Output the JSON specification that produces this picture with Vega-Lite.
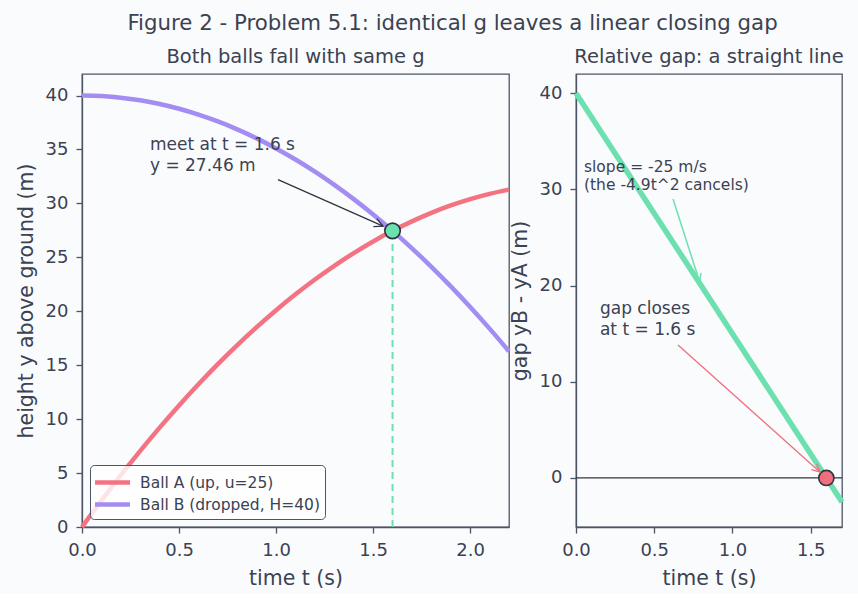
{
  "$schema": "https://vega.github.io/schema/vega-lite/v6.json",
  "background": "#fafbfd",
  "padding": {"left": 15, "top": 12, "right": 8, "bottom": 4},
  "title": {
    "text": "Figure 2 - Problem 5.1: identical g leaves a linear closing gap",
    "fontSize": 21.3,
    "fontWeight": "normal",
    "color": "#3b4252",
    "anchor": "middle",
    "baseline": "bottom",
    "offset": -9,
    "dx": 18
  },
  "spacing": 67,
  "bounds": "flush",
  "datasets": {
    "balls": [
      {"t": 0.0, "y": 0.0, "ball": "Ball A (up, u=25)"},
      {"t": 0.1, "y": 2.451, "ball": "Ball A (up, u=25)"},
      {"t": 0.2, "y": 4.804, "ball": "Ball A (up, u=25)"},
      {"t": 0.3, "y": 7.059, "ball": "Ball A (up, u=25)"},
      {"t": 0.4, "y": 9.216, "ball": "Ball A (up, u=25)"},
      {"t": 0.5, "y": 11.275, "ball": "Ball A (up, u=25)"},
      {"t": 0.6, "y": 13.236, "ball": "Ball A (up, u=25)"},
      {"t": 0.7, "y": 15.099, "ball": "Ball A (up, u=25)"},
      {"t": 0.8, "y": 16.864, "ball": "Ball A (up, u=25)"},
      {"t": 0.9, "y": 18.531, "ball": "Ball A (up, u=25)"},
      {"t": 1.0, "y": 20.1, "ball": "Ball A (up, u=25)"},
      {"t": 1.1, "y": 21.571, "ball": "Ball A (up, u=25)"},
      {"t": 1.2, "y": 22.944, "ball": "Ball A (up, u=25)"},
      {"t": 1.3, "y": 24.219, "ball": "Ball A (up, u=25)"},
      {"t": 1.4, "y": 25.396, "ball": "Ball A (up, u=25)"},
      {"t": 1.5, "y": 26.475, "ball": "Ball A (up, u=25)"},
      {"t": 1.6, "y": 27.456, "ball": "Ball A (up, u=25)"},
      {"t": 1.7, "y": 28.339, "ball": "Ball A (up, u=25)"},
      {"t": 1.8, "y": 29.124, "ball": "Ball A (up, u=25)"},
      {"t": 1.9, "y": 29.811, "ball": "Ball A (up, u=25)"},
      {"t": 2.0, "y": 30.4, "ball": "Ball A (up, u=25)"},
      {"t": 2.1, "y": 30.891, "ball": "Ball A (up, u=25)"},
      {"t": 2.2, "y": 31.284, "ball": "Ball A (up, u=25)"},
      {"t": 0.0, "y": 40.0, "ball": "Ball B (dropped, H=40)"},
      {"t": 0.1, "y": 39.951, "ball": "Ball B (dropped, H=40)"},
      {"t": 0.2, "y": 39.804, "ball": "Ball B (dropped, H=40)"},
      {"t": 0.3, "y": 39.559, "ball": "Ball B (dropped, H=40)"},
      {"t": 0.4, "y": 39.216, "ball": "Ball B (dropped, H=40)"},
      {"t": 0.5, "y": 38.775, "ball": "Ball B (dropped, H=40)"},
      {"t": 0.6, "y": 38.236, "ball": "Ball B (dropped, H=40)"},
      {"t": 0.7, "y": 37.599, "ball": "Ball B (dropped, H=40)"},
      {"t": 0.8, "y": 36.864, "ball": "Ball B (dropped, H=40)"},
      {"t": 0.9, "y": 36.031, "ball": "Ball B (dropped, H=40)"},
      {"t": 1.0, "y": 35.1, "ball": "Ball B (dropped, H=40)"},
      {"t": 1.1, "y": 34.071, "ball": "Ball B (dropped, H=40)"},
      {"t": 1.2, "y": 32.944, "ball": "Ball B (dropped, H=40)"},
      {"t": 1.3, "y": 31.719, "ball": "Ball B (dropped, H=40)"},
      {"t": 1.4, "y": 30.396, "ball": "Ball B (dropped, H=40)"},
      {"t": 1.5, "y": 28.975, "ball": "Ball B (dropped, H=40)"},
      {"t": 1.6, "y": 27.456, "ball": "Ball B (dropped, H=40)"},
      {"t": 1.7, "y": 25.839, "ball": "Ball B (dropped, H=40)"},
      {"t": 1.8, "y": 24.124, "ball": "Ball B (dropped, H=40)"},
      {"t": 1.9, "y": 22.311, "ball": "Ball B (dropped, H=40)"},
      {"t": 2.0, "y": 20.4, "ball": "Ball B (dropped, H=40)"},
      {"t": 2.1, "y": 18.391, "ball": "Ball B (dropped, H=40)"},
      {"t": 2.2, "y": 16.284, "ball": "Ball B (dropped, H=40)"}
    ],
    "meet": [{"t": 1.6, "ground": 0, "y": 27.456}],
    "meetArrow": [{"t": 1.01, "y": 32.2, "t2": 1.551, "y2": 27.9}],
    "meetNote": [{"t": 0.35, "y": 35.0, "label": "meet at t = 1.6 s\ny = 27.46 m"}],
    "gap": [
      {"t": 0.0, "gap": 40.0},
      {"t": 0.5, "gap": 27.5},
      {"t": 1.0, "gap": 15.0},
      {"t": 1.5, "gap": 2.5},
      {"t": 1.7, "gap": -2.5}
    ],
    "zeroLine": [{"gap": 0}],
    "closing": [{"t": 1.6, "gap": 0}],
    "slopeArrow": [{"t": 0.62, "gap": 29.0, "t2": 0.79, "gap2": 20.4}],
    "closeArrow": [{"t": 0.652, "gap": 13.83, "t2": 1.559, "gap2": 0.62}],
    "slopeNote": [{"t": 0.051, "gap": 31.8, "label": "slope = -25 m/s\n(the -4.9t^2 cancels)"}],
    "closeNote": [{"t": 0.153, "gap": 17.05, "label": "gap closes\nat t = 1.6 s"}]
  },
  "hconcat": [
    {
      "width": 427,
      "height": 453,
      "title": {
        "text": "Both balls fall with same g",
        "fontSize": 19.5,
        "fontWeight": "normal",
        "color": "#3b4252",
        "baseline": "bottom",
        "offset": -12
      },
      "layer": [
        {
          "data": {"name": "balls"},
          "mark": {"type": "line", "strokeWidth": 4.5, "interpolate": "monotone"},
          "encoding": {
            "x": {
              "field": "t",
              "type": "quantitative",
              "scale": {"domain": [0, 2.2], "nice": false, "zero": false},
              "axis": {"values": [0, 0.5, 1, 1.5, 2], "format": ".1f", "title": "time t (s)"}
            },
            "y": {
              "field": "y",
              "type": "quantitative",
              "scale": {"domain": [0, 42], "nice": false},
              "axis": {"values": [0, 5, 10, 15, 20, 25, 30, 35, 40], "title": "height y above ground (m)"}
            },
            "color": {
              "field": "ball",
              "type": "nominal",
              "scale": {
                "domain": ["Ball A (up, u=25)", "Ball B (dropped, H=40)"],
                "range": ["#f47382", "#a38cf2"]
              },
              "legend": {
                "orient": "bottom-left",
                "offset": 8,
                "title": null,
                "symbolType": "M -1.75 0 L 1.75 0",
                "symbolStrokeWidth": 4.5,
                "symbolSize": 400,
                "symbolOffset": 5,
                "labelFontSize": 15.5,
                "labelColor": "#3b4252",
                "labelOffset": 15,
                "labelLimit": 400,
                "strokeColor": "#4c5466",
                "fillColor": "rgba(255,255,255,0.8)",
                "padding": 5,
                "cornerRadius": 4,
                "rowPadding": 0
              }
            }
          }
        },
        {
          "data": {"name": "meet"},
          "mark": {"type": "rule", "color": "#6de0b0", "strokeWidth": 2, "strokeDash": [7, 5]},
          "encoding": {
            "x": {"field": "t", "type": "quantitative"},
            "y": {"field": "ground", "type": "quantitative"},
            "y2": {"field": "y"}
          }
        },
        {
          "data": {"name": "meet"},
          "mark": {"type": "point", "shape": "circle", "filled": true, "color": "#6de0b0", "stroke": "#2e3440", "strokeWidth": 1.6, "size": 240, "opacity": 1},
          "encoding": {
            "x": {"field": "t", "type": "quantitative"},
            "y": {"field": "y", "type": "quantitative"}
          }
        },
        {
          "data": {"name": "meetArrow"},
          "mark": {"type": "rule", "color": "#2e3440", "strokeWidth": 1.3},
          "encoding": {
            "x": {"field": "t", "type": "quantitative"},
            "y": {"field": "y", "type": "quantitative"},
            "x2": {"field": "t2"},
            "y2": {"field": "y2"}
          }
        },
        {
          "data": {"name": "meetArrow"},
          "mark": {"type": "point", "shape": "M -1 -0.5 L 0 0 L -1 0.5", "filled": false, "color": "#2e3440", "strokeWidth": 1.3, "size": 300, "angle": 23.7, "opacity": 1},
          "encoding": {
            "x": {"field": "t2", "type": "quantitative"},
            "y": {"field": "y2", "type": "quantitative"}
          }
        },
        {
          "data": {"name": "meetNote"},
          "mark": {"type": "text", "align": "left", "baseline": "alphabetic", "fontSize": 17, "lineHeight": 21, "lineBreak": "\n", "color": "#3b4252"},
          "encoding": {
            "x": {"field": "t", "type": "quantitative"},
            "y": {"field": "y", "type": "quantitative"},
            "text": {"field": "label"}
          }
        }
      ]
    },
    {
      "width": 266,
      "height": 453,
      "title": {
        "text": "Relative gap: a straight line",
        "fontSize": 19.5,
        "fontWeight": "normal",
        "color": "#3b4252",
        "baseline": "bottom",
        "offset": -12
      },
      "layer": [
        {
          "data": {"name": "gap"},
          "mark": {"type": "line", "color": "#6de0b0", "strokeWidth": 5.5},
          "encoding": {
            "x": {
              "field": "t",
              "type": "quantitative",
              "scale": {"domain": [0, 1.7], "nice": false, "zero": false},
              "axis": {"values": [0, 0.5, 1, 1.5], "format": ".1f", "title": "time t (s)"}
            },
            "y": {
              "field": "gap",
              "type": "quantitative",
              "scale": {"domain": [-5.1, 42], "nice": false, "zero": false},
              "axis": {"values": [0, 10, 20, 30, 40], "title": "gap yB - yA (m)"}
            }
          }
        },
        {
          "data": {"name": "zeroLine"},
          "mark": {"type": "rule", "color": "#2e3440", "strokeWidth": 1.3},
          "encoding": {
            "y": {"field": "gap", "type": "quantitative"}
          }
        },
        {
          "data": {"name": "closing"},
          "mark": {"type": "point", "shape": "circle", "filled": true, "color": "#f06e7e", "stroke": "#2e3440", "strokeWidth": 1.6, "size": 230, "opacity": 1},
          "encoding": {
            "x": {"field": "t", "type": "quantitative"},
            "y": {"field": "gap", "type": "quantitative"}
          }
        },
        {
          "data": {"name": "slopeArrow"},
          "mark": {"type": "rule", "color": "#6de0b0", "strokeWidth": 1.5},
          "encoding": {
            "x": {"field": "t", "type": "quantitative"},
            "y": {"field": "gap", "type": "quantitative"},
            "x2": {"field": "t2"},
            "y2": {"field": "gap2"}
          }
        },
        {
          "data": {"name": "slopeArrow"},
          "mark": {"type": "point", "shape": "M -1 -0.5 L 0 0 L -1 0.5", "filled": false, "color": "#6de0b0", "strokeWidth": 1.5, "size": 250, "angle": 72.2, "opacity": 1},
          "encoding": {
            "x": {"field": "t2", "type": "quantitative"},
            "y": {"field": "gap2", "type": "quantitative"}
          }
        },
        {
          "data": {"name": "closeArrow"},
          "mark": {"type": "rule", "color": "#f06e7e", "strokeWidth": 1.3},
          "encoding": {
            "x": {"field": "t", "type": "quantitative"},
            "y": {"field": "gap", "type": "quantitative"},
            "x2": {"field": "t2"},
            "y2": {"field": "gap2"}
          }
        },
        {
          "data": {"name": "closeArrow"},
          "mark": {"type": "point", "shape": "M -1 -0.5 L 0 0 L -1 0.5", "filled": false, "color": "#f06e7e", "strokeWidth": 1.3, "size": 250, "angle": 41.8, "opacity": 1},
          "encoding": {
            "x": {"field": "t2", "type": "quantitative"},
            "y": {"field": "gap2", "type": "quantitative"}
          }
        },
        {
          "data": {"name": "slopeNote"},
          "mark": {"type": "text", "align": "left", "baseline": "alphabetic", "fontSize": 15.5, "lineHeight": 18, "lineBreak": "\n", "color": "#3b4252"},
          "encoding": {
            "x": {"field": "t", "type": "quantitative"},
            "y": {"field": "gap", "type": "quantitative"},
            "text": {"field": "label"}
          }
        },
        {
          "data": {"name": "closeNote"},
          "mark": {"type": "text", "align": "left", "baseline": "alphabetic", "fontSize": 17, "lineHeight": 21, "lineBreak": "\n", "color": "#3b4252"},
          "encoding": {
            "x": {"field": "t", "type": "quantitative"},
            "y": {"field": "gap", "type": "quantitative"},
            "text": {"field": "label"}
          }
        }
      ]
    }
  ],
  "config": {
    "font": "DejaVu Sans",
    "view": {"stroke": "#4c5466", "strokeWidth": 1.3},
    "axis": {
      "grid": false,
      "labelFlush": false,
      "domainColor": "#4c5466",
      "domainWidth": 1.3,
      "tickColor": "#4c5466",
      "tickWidth": 1.3,
      "tickSize": 6,
      "labelFont": "DejaVu Sans",
      "labelFontSize": 18,
      "labelColor": "#3b4252",
      "labelPadding": 8,
      "titleFont": "DejaVu Sans",
      "titleFontSize": 20.5,
      "titleFontWeight": "normal",
      "titleColor": "#3b4252",
      "titlePadding": 9
    },
    "legend": {"labelFont": "DejaVu Sans"}
  }
}
